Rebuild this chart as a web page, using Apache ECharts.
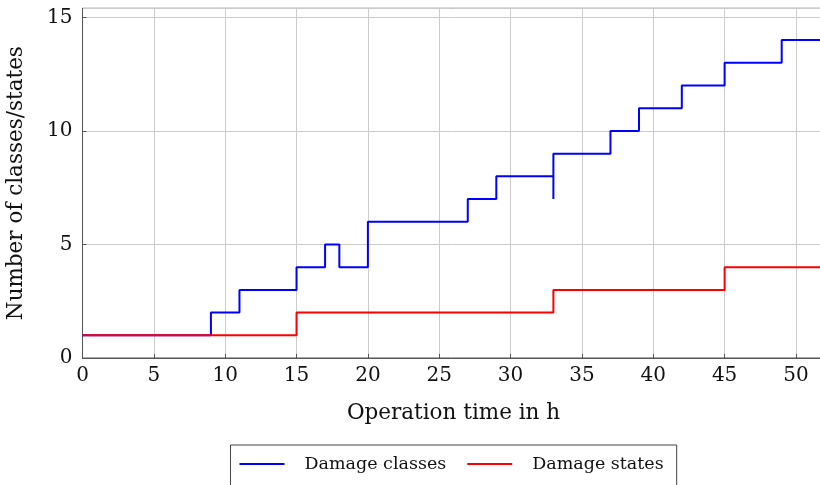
<!DOCTYPE html>
<html>
<head>
<meta charset="utf-8">
<script src="https://cdn.jsdelivr.net/npm/echarts@6/dist/echarts.min.js"></script>
<style>
  html, body { margin: 0; padding: 0; background: #fff; }
  #chart { width: 820px; height: 485px; }
</style>
</head>
<body>
<div id="chart"></div>
<script>
// Step points [operation time in h, count]; each value holds until the next x
const damageClasses = [
  [0, 1], [9, 2], [11, 3], [15, 4], [17, 5], [18, 4], [20, 6], [27, 7],
  [29, 8], [33, 7], [33, 9], [37, 10], [39, 11], [42, 12], [45, 13], [49, 14], [52, 14]
];
const damageStates = [
  [0, 1], [15, 2], [33, 3], [45, 4], [52, 4]
];
const seriesNames = ['Damage classes', 'Damage states'];
const xTitle = 'Operation time in h';
const yTitle = 'Number of classes/states';

const serif = 'DejaVu Serif';
const chart = echarts.init(document.getElementById('chart'), null, { renderer: 'canvas' });

chart.setOption({
  animation: false,
  backgroundColor: '#ffffff',
  grid: {
    left: 82.5, top: 8.3, right: -4.5, bottom: 127,
    containLabel: false, outerBoundsMode: 'none',
    show: true, borderColor: '#555', borderWidth: 1, backgroundColor: 'transparent'
  },
  legend: {
    data: seriesNames,
    left: 230.5, top: 445,
    orient: 'horizontal',
    icon: 'rect', itemWidth: 45, itemHeight: 2,
    itemGap: 21,
    padding: [10, 13, 40, 9],
    borderColor: '#444', borderWidth: 1,
    textStyle: { fontFamily: serif, fontSize: 17.5, color: '#111', padding: [0, 0, 0, 15] }
  },
  xAxis: {
    type: 'value', min: 0, max: 52, interval: 5,
    name: xTitle, nameLocation: 'middle', nameGap: 44,
    nameTextStyle: { fontFamily: serif, fontSize: 21.5, color: '#111' },
    axisLine: { show: true, lineStyle: { color: '#555', width: 1 } },
    axisTick: { show: true, inside: true, length: 4, lineStyle: { color: '#555' } },
    axisLabel: { fontFamily: serif, fontSize: 20, color: '#111', margin: 8, showMaxLabel: false },
    splitLine: { show: true, lineStyle: { color: '#cccccc', width: 1 } }
  },
  yAxis: {
    type: 'value', min: 0, max: 15.4, interval: 5,
    name: yTitle, nameLocation: 'middle', nameGap: 55, nameRotate: 90,
    nameTextStyle: { fontFamily: serif, fontSize: 21.5, color: '#111' },
    axisLine: { show: true, lineStyle: { color: '#555', width: 1 } },
    axisTick: { show: true, inside: true, length: 4, lineStyle: { color: '#555' } },
    axisLabel: { fontFamily: serif, fontSize: 20, color: '#111', margin: 10, showMaxLabel: false },
    splitLine: { show: true, lineStyle: { color: '#cccccc', width: 1 } }
  },
  series: [
    {
      name: seriesNames[0], type: 'line', step: 'end', data: damageClasses,
      showSymbol: false, symbol: 'none', clip: true,
      lineStyle: { color: '#0000ff', width: 2 }, itemStyle: { color: '#0000ff' }, z: 2
    },
    {
      name: seriesNames[1], type: 'line', step: 'end', data: damageStates,
      showSymbol: false, symbol: 'none', clip: true,
      lineStyle: { color: '#ff0000', width: 2 }, itemStyle: { color: '#ff0000' }, z: 3
    }
  ]
});
</script>
</body>
</html>
